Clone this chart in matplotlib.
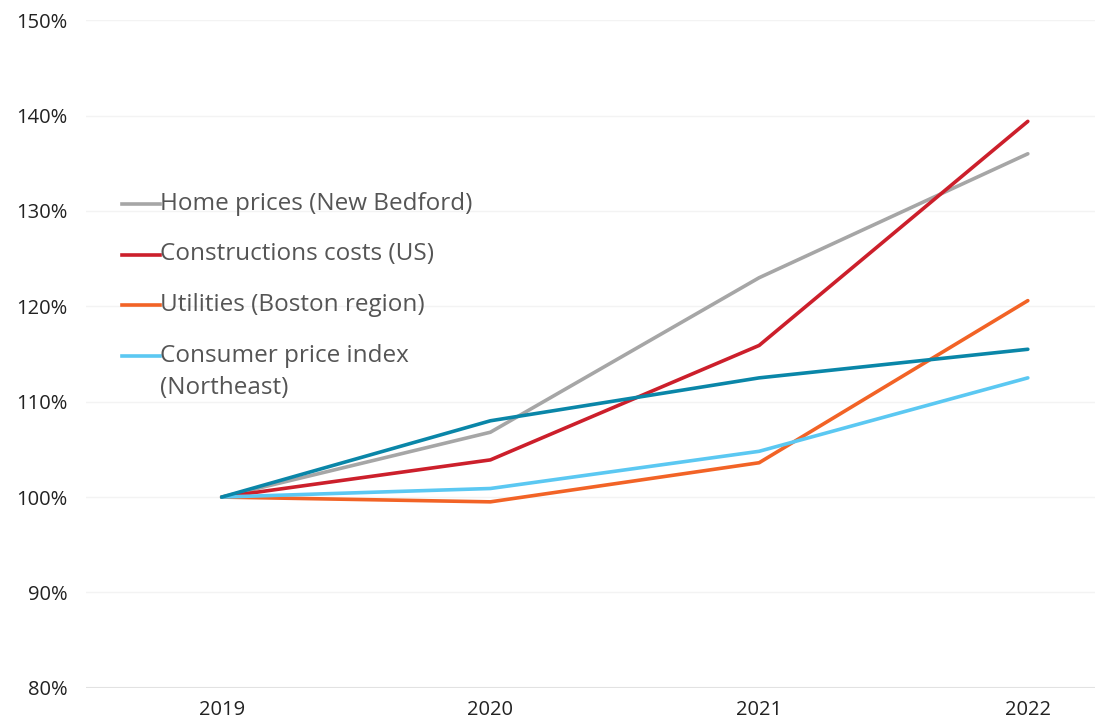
import matplotlib.pyplot as plt
from matplotlib.lines import Line2D
from matplotlib.ticker import FuncFormatter

plt.rcParams['font.family'] = ['Open Sans', 'DejaVu Sans']

years = ['2019', '2020', '2021', '2022']
home_prices = [100, 106.8, 123.0, 136.0]
construction = [100, 103.9, 115.9, 139.4]
utilities = [100, 99.5, 103.6, 120.6]
cpi = [100, 100.9, 104.8, 112.5]
other = [100, 108.0, 112.5, 115.5]

labels = ['Home prices (New Bedford)', 'Constructions costs (US)',
          'Utilities (Boston region)', 'Consumer price index\n(Northeast)']
colors = ['#a6a6a6', '#cc1f2b', '#f26326', '#5bc8f2']

W, H = 1095, 724
fig = plt.figure(figsize=(W / 100, H / 100), dpi=100)
ax = fig.add_axes([0.0785, 0.05, 0.9215, 0.922])

x = range(len(years))
for vals, c in zip([home_prices, construction, utilities, cpi], colors):
    ax.plot(x, vals, color=c, lw=2.6, solid_capstyle='round')
ax.plot(x, other, color='#0a86a8', lw=2.6, solid_capstyle='round')

ax.set_ylim(80, 150)
ax.set_xlim(-0.505, 3.25)
ax.set_yticks(range(80, 151, 10))
ax.yaxis.set_major_formatter(FuncFormatter(lambda v, p: f'{v:.0f}%'))
ax.set_xticks(list(x))
ax.set_xticklabels(years)
ax.tick_params(length=0, labelsize=14.5, colors='#222222')
ax.tick_params(axis='y', pad=13)
ax.tick_params(axis='x', pad=9)
for s in ax.spines.values():
    s.set_visible(False)
ax.grid(axis='y', color='#f3f3f3', lw=1)
ax.axhline(80, color='#e2e2e2', lw=1.5)
ax.set_axisbelow(True)

# legend drawn by hand so the handle sits on the first text line
row_y = 204
for lab, c in zip(labels, colors):
    fy = 1 - row_y / H
    fig.add_artist(Line2D([122 / W, 160 / W], [fy, fy], color=c, lw=2.6,
                          transform=fig.transFigure))
    for k, line in enumerate(lab.split('\n')):
        fig.text(160 / W, 1 - (row_y + 32 * k) / H, line, fontsize=17.5,
                 color='#555555', va='center', ha='left')
    row_y += 50.5

fig.savefig('out.png', dpi=100)
